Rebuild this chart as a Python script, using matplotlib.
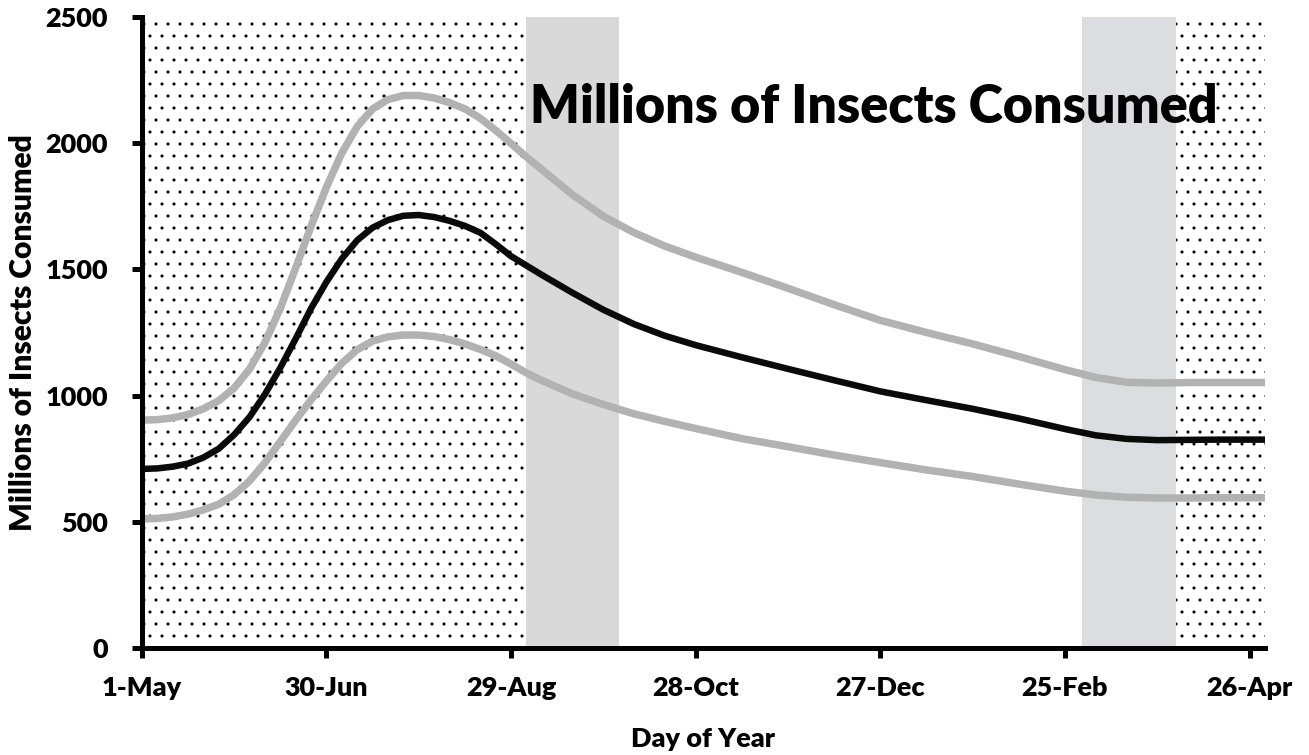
import matplotlib
matplotlib.use("Agg")
import matplotlib.pyplot as plt

plt.rcParams['font.family'] = ['Lato', 'DejaVu Sans']
plt.rcParams['font.weight'] = 'bold'
plt.rcParams['hatch.color'] = 'black'
plt.rcParams['hatch.linewidth'] = 0.6

# ---- data ----
days = [0, 5, 10, 15, 20, 25, 30, 35, 40, 45, 50, 55, 60, 65, 70, 75, 80, 85, 90, 95,
        100, 105, 110, 115, 120, 125, 130, 140, 150, 160, 170, 180, 195, 210, 225, 240,
        255, 270, 285, 300, 310, 320, 330, 340, 350, 365]
upper = [903, 905, 912, 925, 948, 980, 1030, 1105, 1210, 1345, 1505, 1670, 1825, 1960,
         2065, 2135, 2172, 2188, 2188, 2178, 2160, 2135, 2098, 2050, 1998, 1945, 1895,
         1795, 1710, 1645, 1592, 1548, 1488, 1425, 1360, 1298, 1250, 1205, 1155, 1103,
         1072, 1053, 1050, 1052, 1052, 1052]
middle = [710, 712, 719, 731, 755, 790, 845, 915, 1005, 1110, 1225, 1345, 1450, 1542,
          1615, 1665, 1695, 1712, 1715, 1707, 1692, 1672, 1645, 1600, 1552, 1515, 1478,
          1407, 1340, 1283, 1237, 1200, 1152, 1106, 1061, 1017, 982, 948, 910, 868,
          843, 829, 824, 825, 826, 826]
lower = [512, 514, 520, 531, 548, 570, 608, 662, 734, 818, 903, 983, 1058, 1128, 1182,
         1216, 1233, 1240, 1240, 1234, 1222, 1205, 1183, 1158, 1125, 1090, 1060, 1007,
         965, 928, 898, 870, 830, 798, 765, 735, 706, 680, 650, 622, 607, 598, 595, 595,
         596, 596]

tick_days = [0, 60, 120, 180, 240, 300, 360]
tick_labels = ['1-May', '30-Jun', '29-Aug', '28-Oct', '27-Dec', '25-Feb', '26-Apr']
y_ticks = [0, 500, 1000, 1500, 2000, 2500]

dotted_spans = [(0, 125), (336, 365)]
gray_spans = [(125, 155, '#d9d9d9'), (305.5, 336, '#dcdde0')]

# ---- figure ----
DPI = 72
fig = plt.figure(figsize=(1309 / DPI, 755 / DPI), dpi=DPI)
ax = fig.add_axes([0.1083, 0.1413, 0.9664 - 0.1083, 0.9779 - 0.1413])

for a, b in dotted_spans:
    ax.axvspan(a, b, facecolor='white', edgecolor='black', hatch='.', linewidth=0, zorder=0)
for a, b, c in gray_spans:
    ax.axvspan(a, b, facecolor=c, edgecolor='none', linewidth=0, zorder=0)

ax.plot(days, upper, color='#b2b2b2', lw=7.5, solid_capstyle='butt', zorder=3)
ax.plot(days, lower, color='#b2b2b2', lw=7.5, solid_capstyle='butt', zorder=3)
ax.plot(days, middle, color='#0a0a0a', lw=6.5, solid_capstyle='butt', zorder=4)

ax.set_xlim(0, 365)
ax.set_ylim(0, 2500)
ax.set_xticks(tick_days)
ax.set_xticklabels(tick_labels)
ax.set_yticks(y_ticks)

for s in ['top', 'right']:
    ax.spines[s].set_visible(False)
for s in ['left', 'bottom']:
    ax.spines[s].set_linewidth(5)
    ax.spines[s].set_color('black')
    ax.spines[s].set_zorder(5)

ax.tick_params(axis='both', direction='out', length=10, width=5, labelsize=27)
ax.tick_params(axis='y', pad=24)
ax.tick_params(axis='x', pad=18)
for lab in ax.get_xticklabels() + ax.get_yticklabels():
    lab.set_fontweight('heavy')

ax.set_xlabel('Day of Year', fontsize=27, fontweight='heavy', labelpad=27)
ax.set_ylabel('Millions of Insects Consumed', fontsize=30, fontweight='heavy', labelpad=8)

ax.text(126, 2140, 'Millions of Insects Consumed', fontsize=52, fontweight='heavy',
        ha='left', va='center', zorder=6)

fig.savefig('out.png', dpi=DPI)
